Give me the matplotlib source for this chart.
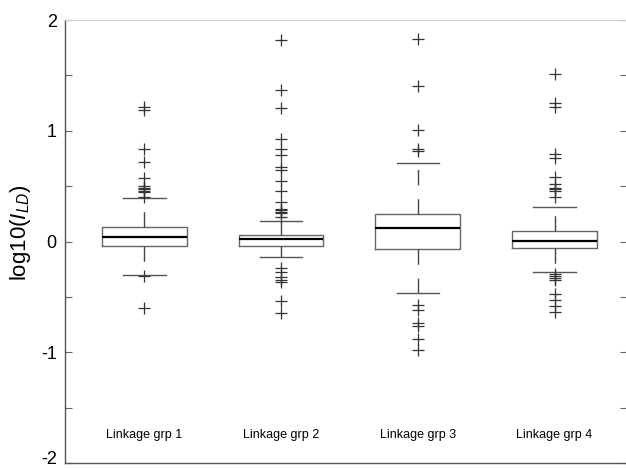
import matplotlib
matplotlib.use("Agg")
import matplotlib.pyplot as plt
from matplotlib.transforms import ScaledTranslation

plt.rcParams['font.family'] = ['Liberation Sans', 'DejaVu Sans']
plt.rcParams['mathtext.fontset'] = 'custom'
plt.rcParams['mathtext.it'] = 'Liberation Sans:italic'
plt.rcParams['mathtext.rm'] = 'Liberation Sans'
plt.rcParams['lines.scale_dashes'] = False

# data
groups = ["Linkage grp 1", "Linkage grp 2", "Linkage grp 3", "Linkage grp 4"]
med = [0.042, 0.021, 0.123, 0.003]
q1 = [-0.045, -0.045, -0.069, -0.057]
q3 = [0.135, 0.060, 0.249, 0.093]
whislo = [-0.30, -0.141, -0.466, -0.276]
whishi = [0.39, 0.183, 0.705, 0.309]
fliers1 = [1.21, 1.19, 0.835, 0.714, 0.574, 0.50, 0.48, 0.47, 0.46, 0.45, 0.40,
           -0.31, -0.60]
fliers2 = [1.817, 1.37, 1.205, 0.925, 0.835, 0.781, 0.67, 0.645, 0.55, 0.46,
           0.354, 0.29, 0.28, 0.27, 0.26, 0.22,
           -0.237, -0.276, -0.32, -0.345, -0.37, -0.538, -0.65]
fliers3 = [1.826, 1.405, 1.006, 0.835, 0.814,
           -0.577, -0.62, -0.74, -0.766, -0.877, -0.976]
fliers4 = [1.516, 1.255, 1.216, 0.79, 0.754, 0.585, 0.52, 0.48, 0.47, 0.46, 0.405,
           -0.29, -0.31, -0.33, -0.35, -0.477, -0.53, -0.585, -0.64]
fliers = [fliers1, fliers2, fliers3, fliers4]

stats = []
for i in range(len(groups)):
    stats.append(dict(med=med[i], q1=q1[i], q3=q3[i], whislo=whislo[i],
                      whishi=whishi[i], fliers=fliers[i], label=groups[i]))

fig = plt.figure(figsize=(6.26, 4.68), dpi=100)
ax = fig.add_axes([65/626, 5/468, 562/626, 443/468])

pos = [1, 2, 3, 4]
ax.bxp(stats, positions=pos, widths=0.62, capwidths=0.31,
       boxprops=dict(color='#666666', linewidth=1.0),
       medianprops=dict(color='black', linewidth=1.6),
       whiskerprops=dict(color='#444444', linewidth=1.0, linestyle=(0, (11, 10))),
       capprops=dict(color='#555555', linewidth=1.0),
       flierprops=dict(marker='+', markersize=8, markeredgecolor='#333333',
                       markeredgewidth=0.9, linestyle='none'))

for i, g in enumerate(groups):
    ax.text(pos[i], -1.75, g, ha='center', va='center', fontsize=9)

ax.set_xlim(0.42, 4.53)
ax.set_ylim(-2, 2)
ax.set_yticks([-2, -1.5, -1, -0.5, 0, 0.5, 1, 1.5, 2])
ax.set_yticklabels(['-2', '', '-1', '', '0', '', '1', '', '2'])
ax.set_xticks([])
ax.tick_params(axis='y', direction='in', length=5, width=0.8, color='#666666',
               labelsize=13, right=True, pad=6)
for s in ['left', 'bottom']:
    ax.spines[s].set_color('#555555')
    ax.spines[s].set_linewidth(1.0)
ax.spines['top'].set_color('#cccccc')
ax.spines['right'].set_visible(False)
ax.set_ylabel('log10($\\mathit{I}_{\\mathit{LD}}$)', fontsize=16)
ax.yaxis.set_label_coords(-0.057, 0.52)

# lift the bottom label a little so it stays inside the picture
lab = ax.get_yticklabels()[0]
lab.set_transform(lab.get_transform() + ScaledTranslation(0, 5/100, fig.dpi_scale_trans))

fig.savefig("out.png", dpi=100)
